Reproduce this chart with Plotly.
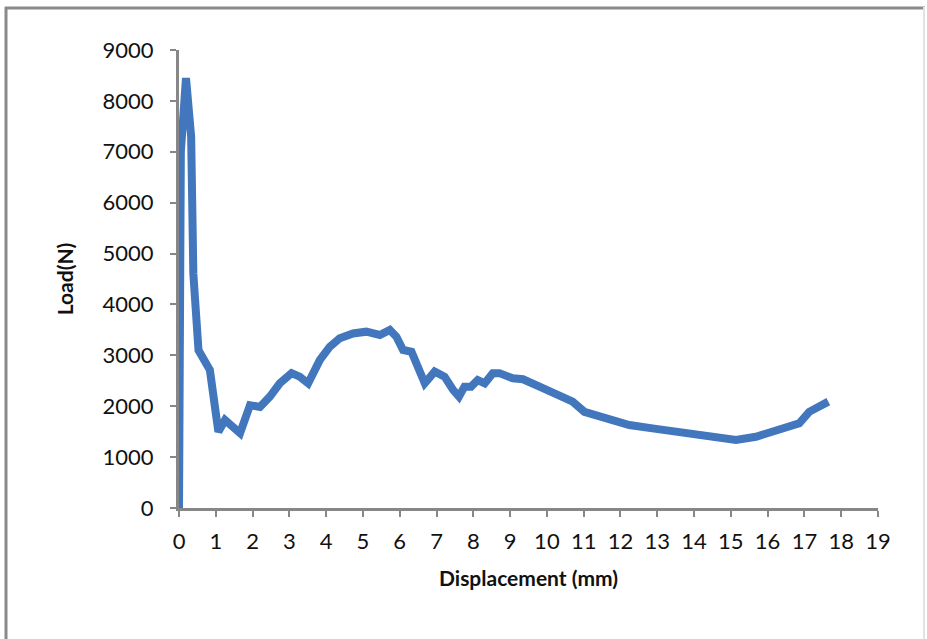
import plotly.graph_objects as go

# ---- data ----
displacement_mm = [0, 0.05, 0.19, 0.33, 0.39, 0.48, 0.53, 0.84, 1.07, 1.25, 1.66, 1.93, 2.2,
                   2.47, 2.74, 3.06, 3.28, 3.51, 3.65, 3.83, 4.1, 4.37, 4.73, 5.09, 5.46,
                   5.73, 5.91, 6.09, 6.32, 6.5, 6.68, 6.95, 7.22, 7.45, 7.61, 7.76, 7.94,
                   8.12, 8.31, 8.53, 8.71, 9.07, 9.35, 9.8, 10.3, 10.7, 11.02, 11.34, 11.88,
                   12.24, 12.87, 13.51, 14.14, 14.5, 14.78, 15.14, 15.68, 16.13, 16.59,
                   16.86, 17.13, 17.4, 17.65]
load_n = [0, 7000, 8450, 7300, 4600, 3240, 3100, 2710, 1500, 1730, 1470, 2020, 1985,
          2190, 2450, 2650, 2580, 2450, 2680, 2910, 3170, 3335, 3430, 3465, 3400,
          3500, 3365, 3105, 3070, 2710, 2450, 2680, 2580, 2320, 2190, 2385, 2385,
          2515, 2450, 2650, 2650, 2550, 2530, 2385, 2220, 2090, 1890, 1830, 1700,
          1630, 1565, 1500, 1415, 1400, 1335, 1335, 1400, 1500, 1565, 1665, 1890,
          1990, 2090]
x_ticks = list(range(0, 20))
y_ticks = list(range(0, 10000, 1000))

# ---- layout constants (pixels) ----
W, H = 927, 639
L, R, T, B = 179, 878, 50, 508  # plot area edges


def px_x(px):
    return (px - L) / (R - L)


def px_y(py):
    return (B - py) / (B - T)


fig = go.Figure()
fig.add_trace(go.Scatter(
    x=displacement_mm, y=load_n, mode="lines",
    line=dict(color="#4277BD", width=8),
    hoverinfo="x+y", showlegend=False,
))

axis_color = "#878787"
tick_font = dict(family="Lato", size=22, color="#111111")
title_font = dict(family="Lato", size=21, color="#111111", weight="bold")

fig.update_layout(
    width=W, height=H,
    margin=dict(l=L, r=W - R, t=T, b=H - B),
    paper_bgcolor="white", plot_bgcolor="white",
    xaxis=dict(
        range=[0, 19], tickvals=x_ticks, ticktext=[str(v) for v in x_ticks],
        showgrid=False, zeroline=False, showline=True, linecolor=axis_color,
        linewidth=3, ticks="outside", ticklen=6, tickwidth=2, tickcolor=axis_color,
        tickfont=tick_font, ticklabelstandoff=6,
        title=dict(text="Displacement (mm)", font=title_font, standoff=18),
    ),
    yaxis=dict(
        range=[0, 9000], tickvals=y_ticks, ticktext=[str(v) for v in y_ticks],
        showgrid=False, zeroline=False, showline=True, linecolor=axis_color,
        linewidth=3, ticks="outside", ticklen=6, tickwidth=2, tickcolor=axis_color,
        tickfont=tick_font, ticklabelstandoff=12,
        title=dict(text="Load(N)", font=title_font, standoff=24),
    ),
    shapes=[
        dict(type="line", xref="paper", yref="paper",
             x0=px_x(5), x1=px_x(925), y0=px_y(8), y1=px_y(8),
             line=dict(color="#8a8a8a", width=3)),
        dict(type="line", xref="paper", yref="paper",
             x0=px_x(6), x1=px_x(6), y0=px_y(7), y1=px_y(645),
             line=dict(color="#8a8a8a", width=3)),
        dict(type="line", xref="paper", yref="paper",
             x0=px_x(924), x1=px_x(924), y0=px_y(7), y1=px_y(645),
             line=dict(color="#e2e2e2", width=2)),
    ],
)

fig.write_html("out.html")
